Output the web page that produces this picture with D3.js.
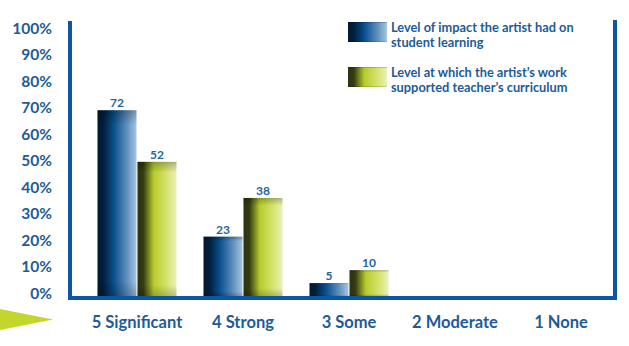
<!DOCTYPE html>
<html>
<head>
<meta charset="utf-8">
<script src="https://cdn.jsdelivr.net/npm/d3@7"></script>
<style>
  body { margin: 0; background: #fff; }
  svg text { font-family: Lato, "Open Sans", sans-serif; font-weight: 700; }
</style>
</head>
<body>
<div id="chart"></div>
<script>
// chart data
var categories = ["5 Significant", "4 Strong", "3 Some", "2 Moderate", "1 None"]
var impact     = [72, 23, 5]
var curriculum = [52, 38, 10]
var yTicks     = [0, 10, 20, 30, 40, 50, 60, 70, 80, 90, 100]
var seriesNames = [
    ["Level of impact the artist had on", "student learning"],
    ["Level at which the artist\u2019s work", "supported teacher\u2019s curriculum"]
]

var width  = 629
var height = 346
var blueText = "#1d5b99"
var axisBlue = "#0b57a2"

var svg = d3.select("#chart").append("svg")
    .attr("width", width)
    .attr("height", height)

// gradients for the shiny bars
var defs = svg.append("defs")
function addGradient(id, stops) {
    var g = defs.append("linearGradient").attr("id", id)
        .attr("x1", "0%").attr("x2", "100%").attr("y1", "0%").attr("y2", "0%")
    stops.forEach(function (s) {
        g.append("stop").attr("offset", s[0]).attr("stop-color", s[1])
    })
}
addGradient("gBlue", [["0%", "#001a33"], ["15%", "#011e3c"], ["42%", "#0a4f8e"], ["75%", "#5d8fbe"], ["100%", "#a9c6de"]])
addGradient("gGreen", [["0%", "#2c3310"], ["15%", "#343c12"], ["42%", "#b8cc2c"], ["75%", "#d6e36c"], ["100%", "#eaf1bb"]])
// soft dark shading on the top/bottom corners
var shade = defs.append("linearGradient").attr("id", "gShade")
    .attr("x1", "0%").attr("x2", "0%").attr("y1", "0%").attr("y2", "100%")
shade.append("stop").attr("offset", "0%").attr("stop-color", "#000").attr("stop-opacity", 0.25)
shade.append("stop").attr("offset", "8%").attr("stop-color", "#000").attr("stop-opacity", 0)
shade.append("stop").attr("offset", "92%").attr("stop-color", "#000").attr("stop-opacity", 0)
shade.append("stop").attr("offset", "100%").attr("stop-color", "#000").attr("stop-opacity", 0.2)

// scales
var x = d3.scaleBand()
    .domain(categories)
    .range([84, 614])

var barW = 39
var y = d3.scaleLinear()     // bars
    .domain([0, 100])
    .range([296, 38])

var yLab = d3.scaleLinear()  // tick labels
    .domain([0, 100])
    .range([293, 28])

// tick labels
svg.append("g").selectAll("text")
    .data(yTicks)
    .enter()
    .append("text")
    .attr("x", 52)
    .attr("y", function (d) { return yLab(d) })
    .attr("dy", "0.36em")
    .attr("text-anchor", "end")
    .attr("font-size", 15.5)
    .attr("fill", blueText)
    .text(function (d) { return d + "%" })

// bars
var bars = []
impact.forEach(function (v, i) { bars.push({ cat: categories[i], v: v, s: 0 }) })
curriculum.forEach(function (v, i) { bars.push({ cat: categories[i], v: v, s: 1 }) })

function barX(d) { return x(d.cat) + x.bandwidth() / 2 - barW - 0.5 + d.s * (barW + 1) }

var bg = svg.append("g")
bg.selectAll("rect.bar")
    .data(bars)
    .enter()
    .append("rect")
    .attr("class", "bar")
    .attr("x", barX)
    .attr("y", function (d) { return y(d.v) })
    .attr("width", barW)
    .attr("height", function (d) { return y(0) - y(d.v) })
    .attr("fill", function (d) { return d.s == 0 ? "url(#gBlue)" : "url(#gGreen)" })
bg.selectAll("rect.shade")
    .data(bars)
    .enter()
    .append("rect")
    .attr("class", "shade")
    .attr("x", barX)
    .attr("y", function (d) { return y(d.v) })
    .attr("width", barW)
    .attr("height", function (d) { return y(0) - y(d.v) })
    .attr("fill", "url(#gShade)")

bg.selectAll("text")
    .data(bars)
    .enter()
    .append("text")
    .attr("x", function (d) { return barX(d) + barW / 2 })
    .attr("y", function (d) { return y(d.v) - 3 })
    .attr("text-anchor", "middle")
    .attr("font-size", 12)
    .attr("fill", "#2364a4")
    .text(function (d) { return d.v })

// frame: left, bottom, right
svg.append("path")
    .attr("d", "M70,21V298H615V20")
    .attr("fill", "none")
    .attr("stroke", axisBlue)
    .attr("stroke-width", 4)

// category labels
svg.append("g").selectAll("text")
    .data(categories)
    .enter()
    .append("text")
    .attr("x", function (d) { return x(d) + x.bandwidth() / 2 })
    .attr("y", 328)
    .attr("text-anchor", "middle")
    .attr("font-size", 16.5)
    .attr("fill", blueText)
    .text(function (d) { return d })

// green arrow on the left
svg.append("path")
    .attr("d", "M0,309L53,319.5L0,330Z")
    .attr("fill", "#c3d62c")

// legend
var leg = svg.append("g").selectAll("g")
    .data(seriesNames)
    .enter()
    .append("g")
    .attr("transform", function (d, i) { return "translate(348," + (22 + i * 45) + ")" })
leg.append("rect")
    .attr("width", 39)
    .attr("height", 20)
    .attr("fill", function (d, i) { return i == 0 ? "url(#gBlue)" : "url(#gGreen)" })
leg.append("rect")
    .attr("width", 39)
    .attr("height", 20)
    .attr("fill", "url(#gShade)")
leg.selectAll("text")
    .data(function (d) { return d })
    .enter()
    .append("text")
    .attr("x", 43)
    .attr("y", function (d, j) { return 9.5 + j * 15 })
    .attr("font-size", 12.8)
    .attr("fill", blueText)
    .text(function (d) { return d })
</script>
</body>
</html>
